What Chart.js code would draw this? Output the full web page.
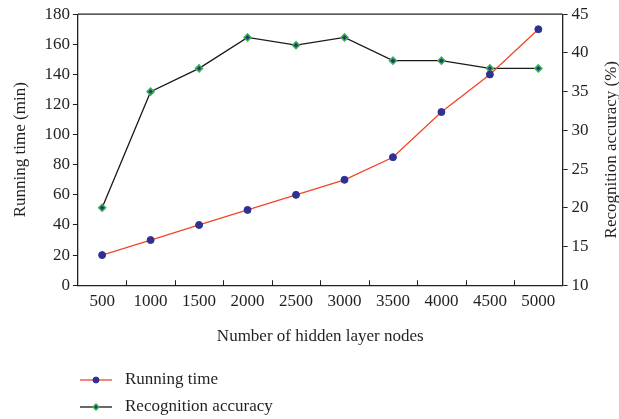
<!DOCTYPE html>
<html>
<head>
<meta charset="utf-8">
<script src="https://cdn.jsdelivr.net/npm/chart.js@4/dist/chart.umd.min.js"></script>
<style>
  html, body { margin: 0; padding: 0; background: #ffffff; }
  #wrap { width: 619px; height: 419px; position: relative; }
</style>
</head>
<body>
<div id="wrap"><canvas id="c" width="619" height="419"></canvas></div>
<script>
// Hidden-layer sizes on the x axis
const nodeCounts = ['500', '1000', '1500', '2000', '2500', '3000', '3500', '4000', '4500', '5000'];
// Training time in minutes (left axis)
const runningTime = [20, 30, 40, 50, 60, 70, 85, 115, 140, 170];
// Recognition accuracy in percent (right axis)
const recognitionAccuracy = [20, 35, 38, 42, 41, 42, 39, 39, 38, 38];

const FONT = "'Liberation Serif', 'Times New Roman', serif";
const FS = 17;
const INK = '#231f20';
const RED = '#f2452a';
const NAVY = '#2e3192';
const GREEN = '#39b54a';

const canvas = document.getElementById('c');
// slightly looser letter spacing for all canvas text
canvas.getContext('2d').letterSpacing = '0.5px';

// Frame on top, inward x ticks between categories, right title, legend below
const decorations = {
  id: 'decorations',
  afterDraw(chart) {
    const { ctx, chartArea: a, scales } = chart;
    ctx.save();
    ctx.strokeStyle = INK;
    ctx.lineWidth = 1.3;
    // top edge of the frame
    ctx.beginPath();
    ctx.moveTo(a.left, a.top);
    ctx.lineTo(a.right, a.top);
    ctx.stroke();

    // inward tick marks at the boundaries between categories
    const x = scales.x;
    const n = x.ticks.length;
    ctx.lineWidth = 1;
    for (let i = 0; i < n - 1; i++) {
      const px = (x.getPixelForTick(i) + x.getPixelForTick(i + 1)) / 2;
      ctx.beginPath();
      ctx.moveTo(Math.round(px) + 0.5, a.bottom);
      ctx.lineTo(Math.round(px) + 0.5, a.bottom - 5);
      ctx.stroke();
    }

    // right axis title, reading bottom to top
    const yr = scales.y1;
    ctx.fillStyle = INK;
    ctx.font = FS + 'px ' + FONT;
    ctx.textAlign = 'center';
    ctx.textBaseline = 'middle';
    ctx.translate(yr.right - 7, (a.top + a.bottom) / 2);
    ctx.rotate(-Math.PI / 2);
    ctx.fillText(yr.options.title.text, 0, 0);
    ctx.restore();

    // legend: line sample with marker, then label
    ctx.save();
    ctx.font = FS + 'px ' + FONT;
    ctx.textAlign = 'left';
    ctx.textBaseline = 'middle';
    chart.data.datasets.forEach((ds, i) => {
      const y = 380 + i * 27;
      const x0 = 80, x1 = 112, xm = (x0 + x1) / 2;
      ctx.strokeStyle = ds.borderColor;
      ctx.lineWidth = ds.borderWidth;
      ctx.beginPath();
      ctx.moveTo(x0, y);
      ctx.lineTo(x1, y);
      ctx.stroke();
      ctx.fillStyle = ds.pointBackgroundColor;
      ctx.strokeStyle = ds.pointBorderColor;
      ctx.lineWidth = ds.pointBorderWidth;
      Chart.helpers.drawPoint(ctx, {
        pointStyle: ds.pointStyle,
        radius: ds.pointRadius - 0.5,
        rotation: 0,
        borderWidth: ds.pointBorderWidth
      }, xm, y);
      ctx.fillStyle = INK;
      ctx.fillText(ds.label, 125, y);
    });
    ctx.restore();
  }
};

new Chart(canvas, {
  type: 'line',
  data: {
    labels: nodeCounts,
    datasets: [
      {
        label: 'Running time',
        data: runningTime,
        yAxisID: 'y',
        borderColor: RED,
        borderWidth: 1.3,
        pointStyle: 'circle',
        pointRadius: 3.5,
        pointBackgroundColor: NAVY,
        pointBorderColor: NAVY,
        pointBorderWidth: 1,
        tension: 0
      },
      {
        label: 'Recognition accuracy',
        data: recognitionAccuracy,
        yAxisID: 'y1',
        borderColor: '#1a1a1a',
        borderWidth: 1.3,
        pointStyle: 'rectRot',
        pointRadius: 3.5,
        pointBackgroundColor: NAVY,
        pointBorderColor: GREEN,
        pointBorderWidth: 1.5,
        tension: 0
      }
    ]
  },
  options: {
    responsive: false,
    animation: false,
    devicePixelRatio: 1,
    layout: { padding: { top: 14, right: 0, bottom: 72, left: 10 } },
    plugins: {
      legend: { display: false },
      tooltip: { enabled: false }
    },
    scales: {
      x: {
        type: 'category',
        offset: true,
        grid: { display: false, drawTicks: false },
        border: { display: true, color: INK, width: 1.3 },
        ticks: { color: INK, font: { family: FONT, size: FS }, padding: 6 },
        title: {
          display: true,
          text: 'Number of hidden layer nodes',
          color: INK,
          font: { family: FONT, size: FS },
          padding: { top: 9, bottom: 0 }
        }
      },
      y: {
        position: 'left',
        min: 0,
        max: 180,
        ticks: { stepSize: 20, color: INK, font: { family: FONT, size: FS }, padding: 3 },
        grid: { drawOnChartArea: false, drawTicks: true, tickLength: 5, color: INK, lineWidth: 1 },
        border: { display: true, color: INK, width: 1.3 },
        title: {
          display: true,
          text: 'Running time (min)',
          color: INK,
          font: { family: FONT, size: FS },
          padding: { top: 0, bottom: 11 }
        }
      },
      y1: {
        position: 'right',
        min: 10,
        max: 45,
        ticks: { stepSize: 5, color: INK, font: { family: FONT, size: FS }, padding: 4 },
        grid: { drawOnChartArea: false, drawTicks: true, tickLength: 5, color: INK, lineWidth: 1 },
        border: { display: true, color: INK, width: 1.3 },
        title: {
          display: true,
          text: 'Recognition accuracy (%)',
          color: 'rgba(0,0,0,0)',
          font: { family: FONT, size: FS },
          padding: { top: 6, bottom: 0 }
        }
      }
    }
  },
  plugins: [decorations]
});
</script>
</body>
</html>
